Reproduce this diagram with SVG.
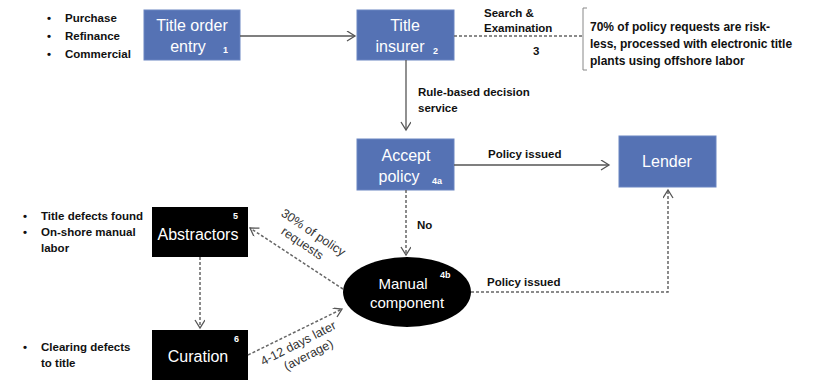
<svg xmlns="http://www.w3.org/2000/svg" width="815" height="381" viewBox="0 0 815 381">
<style>
text{font-family:"Liberation Sans",Arial,sans-serif}
.lbl{font-size:11.5px;font-weight:bold;fill:#111}
.note{font-size:12px;font-weight:bold;fill:#111}
.rot{font-size:12.5px;fill:#333}
.bw{font-size:16px;fill:#fff}
.num{font-size:9px;font-weight:bold;fill:#fff}
.blue{fill:#5572b4;stroke:#6a85c2;stroke-width:1}
.blk{fill:#000}
.ln{fill:none;stroke:#555;stroke-width:1.3}
.dash{fill:none;stroke:#666;stroke-width:1.5;stroke-dasharray:3,2}
</style>
<defs>
<marker id="ah" markerWidth="12" markerHeight="12" refX="9" refY="5" orient="auto" markerUnits="userSpaceOnUse">
<path d="M1,0 L9,5 L1,10" fill="none" stroke="#555" stroke-width="1.3"/>
</marker>
</defs>
<rect width="815" height="381" fill="#fff"/>

<g id="bullets-top">
<text class="lbl" x="47" y="22">•</text><text class="lbl" x="65" y="22">Purchase</text>
<text class="lbl" x="47" y="40">•</text><text class="lbl" x="65" y="40">Refinance</text>
<text class="lbl" x="47" y="58">•</text><text class="lbl" x="65" y="58">Commercial</text>
</g>

<g id="title-order-entry">
<rect class="blue" x="144" y="10" width="96" height="50"/>
<text class="bw" x="192" y="31" text-anchor="middle">Title order</text>
<text class="bw" x="188" y="52" text-anchor="middle">entry</text>
<text class="num" x="223" y="53">1</text>
</g>

<g id="title-insurer">
<rect class="blue" x="357" y="10" width="97" height="50"/>
<text class="bw" x="405" y="31" text-anchor="middle">Title</text>
<text class="bw" x="400" y="52" text-anchor="middle">insurer</text>
<text class="num" x="433" y="54">2</text>
</g>

<g id="search-note">
<text class="lbl" x="484" y="17">Search &amp;</text>
<text class="lbl" x="484" y="32">Examination</text>
<text class="lbl" x="533" y="55">3</text>
<path d="M587,8 L583,8 L583,70 L587,70" fill="none" stroke="#888" stroke-width="1"/>
<text class="note" x="590" y="31">70% of policy requests are risk-</text>
<text class="note" x="590" y="48">less, processed with electronic title</text>
<text class="note" x="590" y="65">plants using offshore labor</text>
</g>

<g id="accept-policy">
<rect class="blue" x="357" y="139" width="97" height="51"/>
<text class="bw" x="406" y="161" text-anchor="middle">Accept</text>
<text class="bw" x="399" y="182" text-anchor="middle">policy</text>
<text class="num" x="432" y="184">4a</text>
</g>

<g id="lender">
<rect class="blue" x="619" y="136" width="97" height="51"/>
<text class="bw" x="667" y="167" text-anchor="middle">Lender</text>
</g>

<g id="manual-component">
<ellipse cx="407" cy="292" rx="64" ry="35" fill="#000"/>
<text class="bw" x="403" y="289" text-anchor="middle" style="font-size:15px">Manual</text>
<text class="bw" x="407" y="308" text-anchor="middle" style="font-size:15px">component</text>
<text class="num" x="440" y="278">4b</text>
</g>

<g id="abstractors">
<rect class="blk" x="152" y="207" width="96" height="50"/>
<text class="bw" x="198" y="240" text-anchor="middle">Abstractors</text>
<text class="num" x="233" y="219">5</text>
</g>

<g id="curation">
<rect class="blk" x="152" y="330" width="96" height="50"/>
<text class="bw" x="198" y="362" text-anchor="middle">Curation</text>
<text class="num" x="234" y="342">6</text>
</g>

<g id="bullets-left">
<text class="lbl" x="23" y="220">•</text><text class="lbl" x="41" y="220">Title defects found</text>
<text class="lbl" x="23" y="236">•</text><text class="lbl" x="41" y="236">On-shore manual</text>
<text class="lbl" x="41" y="252">labor</text>
<text class="lbl" x="23" y="351">•</text><text class="lbl" x="41" y="351">Clearing defects</text>
<text class="lbl" x="41" y="367">to title</text>
</g>

<g id="connectors">
<line class="ln" x1="240" y1="36" x2="355" y2="36" marker-end="url(#ah)"/>
<line class="dash" x1="454" y1="36" x2="582" y2="36"/>
<line class="ln" x1="406" y1="60" x2="406" y2="130" marker-end="url(#ah)"/>
<text class="lbl" x="418" y="96">Rule-based decision</text>
<text class="lbl" x="418" y="112">service</text>
<line class="ln" x1="454" y1="165" x2="609" y2="165" marker-end="url(#ah)"/>
<text class="lbl" x="488" y="158">Policy issued</text>
<line class="dash" x1="406" y1="190" x2="406" y2="255" marker-end="url(#ah)"/>
<text class="lbl" x="417" y="229">No</text>
<polyline class="dash" points="471,292 668,292 668,190" marker-end="url(#ah)"/>
<text class="lbl" x="487" y="286">Policy issued</text>
<line class="dash" x1="200" y1="257" x2="200" y2="328" marker-end="url(#ah)"/>
<line class="dash" x1="343" y1="289" x2="250" y2="228" marker-end="url(#ah)"/>
<line class="dash" x1="248" y1="355" x2="342" y2="309" marker-end="url(#ah)"/>
<g transform="translate(311,236) rotate(34)">
<text class="rot" x="0" y="0" text-anchor="middle">30% of policy</text>
<text class="rot" x="-3" y="15" text-anchor="middle">requests</text>
</g>
<g transform="translate(300,347) rotate(-27)">
<text class="rot" x="0" y="0" text-anchor="middle">4-12 days later</text>
<text class="rot" x="4" y="15" text-anchor="middle">(average)</text>
</g>
</g>
</svg>
